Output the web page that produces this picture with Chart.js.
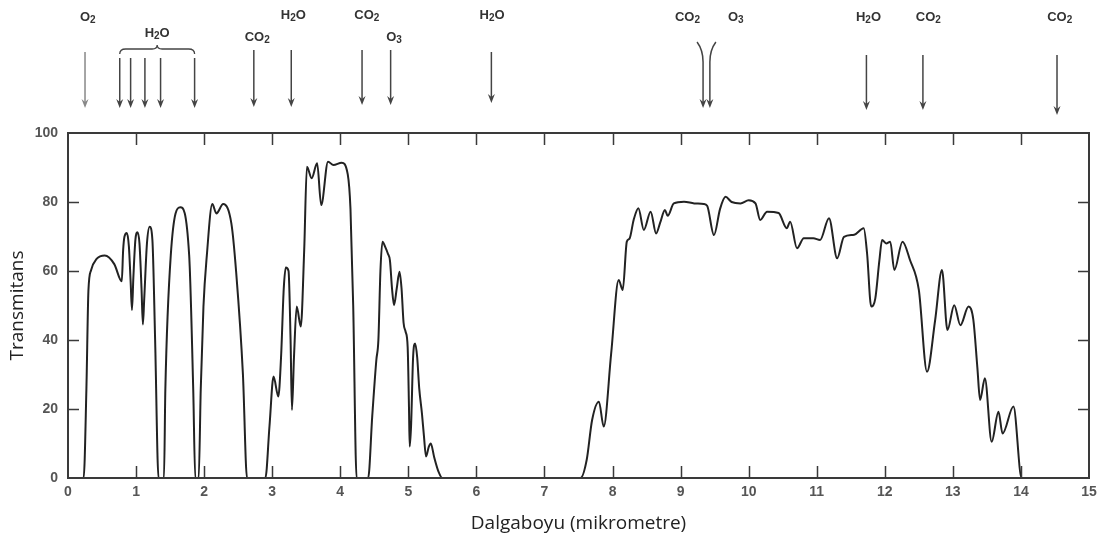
<!DOCTYPE html>
<html>
<head>
<meta charset="utf-8">
<script src="https://cdn.jsdelivr.net/npm/chart.js@4.4.1/dist/chart.umd.min.js"></script>
<style>
  html, body { margin: 0; padding: 0; background: #fff; }
</style>
</head>
<body>
<canvas id="spectrum" width="1109" height="545"></canvas>
<script>
// atmospheric transmittance
var wavelength = [
  0, 0.23, 0.27, 0.30, 0.34, 0.42, 0.54, 0.68, 0.79, 0.81, 0.83, 0.865, 0.895, 0.92, 0.94,
  0.96, 0.99, 1.02, 1.05, 1.08, 1.10, 1.12, 1.16, 1.20, 1.24, 1.28, 1.33,
  1.41, 1.43, 1.51, 1.65, 1.78, 1.84, 1.87,
  1.92, 1.95, 1.99, 2.04, 2.12, 2.18, 2.28, 2.40, 2.47, 2.57, 2.63,
  2.90, 2.96, 3.02, 3.09, 3.13, 3.17, 3.20, 3.24, 3.27, 3.29, 3.32, 3.36, 3.42, 3.47, 3.51, 3.58, 3.66, 3.72,
  3.82, 3.90, 4.02, 4.11, 4.15, 4.19, 4.24,
  4.41, 4.47, 4.53, 4.56, 4.59, 4.62, 4.66, 4.70, 4.73, 4.76, 4.79, 4.83, 4.87, 4.90, 4.93, 4.96, 4.99, 5.01,
  5.02, 5.04, 5.07, 5.10, 5.13, 5.16, 5.20, 5.23, 5.26, 5.30, 5.33, 5.38, 5.44, 5.50,
  7.53, 7.62, 7.70, 7.80, 7.87, 7.98, 8.09, 8.15, 8.21, 8.25, 8.31, 8.38, 8.46, 8.56, 8.64, 8.70, 8.77, 8.81, 8.90,
  9.05, 9.20, 9.34, 9.39, 9.49, 9.58, 9.66, 9.75, 9.88, 10.0, 10.1, 10.17, 10.27, 10.44, 10.56, 10.61, 10.71, 10.81,
  10.95, 11.05, 11.18, 11.30, 11.40, 11.55, 11.69, 11.74, 11.80, 11.86, 11.92, 11.96, 12.02, 12.08, 12.14, 12.26,
  12.37, 12.50, 12.62, 12.74, 12.84, 12.92, 13.02, 13.11, 13.23, 13.30, 13.36, 13.40, 13.47, 13.57, 13.67, 13.73,
  13.89, 14.01, 15
];
var transmittance = [
  0, 0, 25.5, 54.3, 60.3, 63.5, 64.5, 62, 57, 66, 70, 71, 67, 57, 48.7,
  58, 69, 71.2, 68, 55, 44.5, 52, 68, 72.8, 69, 40, 0,
  0, 25.5, 64.6, 78.5, 64.6, 25.5, 0,
  0, 25.5, 49.7, 64.6, 79.4, 76.7, 79.4, 73.8, 59.8, 30, 0,
  0, 15, 29.4, 23.6, 35, 55, 61, 60, 40, 19.7, 35, 49.7, 43.9, 66, 90.2, 86.9, 91.2, 79.1,
  91.7, 90.7, 91.4, 88, 78, 50, 0,
  0, 18, 34.2, 40, 60, 68.5, 67, 65, 63, 55, 50.1, 55, 59.8, 55, 45, 42.4, 38, 20,
  9.1, 15, 35, 39, 35, 26, 18.7, 12, 6.2, 9, 10, 6, 2, 0,
  0, 5.2, 16.8, 22.1, 14.9, 36.1, 57.4, 54.5, 68.5, 69.4, 74.8, 78.2, 71.9, 77.2, 70.9, 74, 77.7, 76, 79.6,
  80.1, 79.6, 79.4, 78.9, 70.4, 78, 81.5, 80, 79.6, 80.5, 79.6, 74.8, 77.2, 76.8, 72.4, 74.3, 66.6, 69.5,
  69.5, 69, 75.3, 63.7, 69.9, 70.5, 72.4, 65, 49.7, 52, 63, 69, 68, 68.5, 60.3, 68.5,
  63.2, 54.5, 30.8, 45.8, 60.3, 42.9, 50.1, 44.3, 49.7, 46, 32, 22.6, 28.9, 10.5, 19.2, 12.9,
  20.7, 0, 0
];

var xTicks = [0, 1, 2, 3, 4, 5, 6, 7, 8, 9, 10, 11, 12, 13, 14, 15];
var yTicks = [0, 20, 40, 60, 80, 100];

// absorbing gases above the plot
var absorberNames = ['O₂', 'H₂O', 'CO₂', 'H₂O', 'CO₂', 'O₃', 'H₂O', 'CO₂', 'O₃', 'H₂O', 'CO₂', 'CO₂'];
var absorberLabelAt = [0.29, 1.31, 2.78, 3.31, 4.39, 4.79, 6.23, 9.10, 9.81, 11.76, 12.64, 14.57];
var arrowAt = [0.25, 0.76, 0.92, 1.13, 1.36, 1.86, 2.73, 3.28, 4.32, 4.74, 6.22, 9.33, 9.43, 11.73, 12.56, 14.53];

var points = wavelength.map(function(w, i) {
    return {x: w, y: transmittance[i]};
});

var subDigits = {'₀': '0', '₁': '1', '₂': '2', '₃': '3'};

function drawFormula(ctx, text, cx, cy) {
    var main = 'bold 13px "Liberation Sans", Arial, sans-serif';
    var sub = 'bold 10px "Liberation Sans", Arial, sans-serif';
    var parts = [];
    var total = 0;
    for (var i = 0; i < text.length; i++) {
        var ch = text[i];
        var isSub = subDigits[ch] !== undefined;
        ctx.font = isSub ? sub : main;
        var c = isSub ? subDigits[ch] : ch;
        var w = ctx.measureText(c).width;
        parts.push({c: c, sub: isSub, w: w});
        total += w;
    }
    var x = cx - total / 2;
    ctx.textAlign = 'left';
    ctx.textBaseline = 'middle';
    parts.forEach(function(p) {
        ctx.font = p.sub ? sub : main;
        ctx.fillText(p.c, x, p.sub ? cy + 3 : cy);
        x += p.w;
    });
}

function drawArrow(ctx, x, y0, y1) {
    ctx.beginPath();
    ctx.moveTo(x, y0);
    ctx.lineTo(x, y1 - 4);
    ctx.stroke();
    ctx.beginPath();
    ctx.moveTo(x - 3.5, y1 - 9);
    ctx.lineTo(x, y1);
    ctx.lineTo(x + 3.5, y1 - 9);
    ctx.lineTo(x, y1 - 6);
    ctx.closePath();
    ctx.fill();
}

var frameAndMarks = {
    id: 'frameAndMarks',
    afterDatasetsDraw: function(chart) {
        var ctx = chart.ctx;
        var a = chart.chartArea;
        var xs = chart.scales.x;
        var ys = chart.scales.y;
        ctx.save();

        // frame with inward ticks on all four sides
        ctx.strokeStyle = '#3a3a3a';
        ctx.lineWidth = 2;
        ctx.strokeRect(a.left, a.top, a.right - a.left, a.bottom - a.top);
        ctx.lineWidth = 1.5;
        ctx.beginPath();
        xTicks.forEach(function(v) {
            if (v === xs.min || v === xs.max) return;
            var px = Math.round(xs.getPixelForValue(v)) + 0.5;
            ctx.moveTo(px, a.top);
            ctx.lineTo(px, a.top + 12);
            ctx.moveTo(px, a.bottom);
            ctx.lineTo(px, a.bottom - 12);
        });
        yTicks.forEach(function(v) {
            if (v === ys.min || v === ys.max) return;
            var py = Math.round(ys.getPixelForValue(v)) + 0.5;
            ctx.moveTo(a.left, py);
            ctx.lineTo(a.left + 11, py);
            ctx.moveTo(a.right, py);
            ctx.lineTo(a.right - 11, py);
        });
        ctx.stroke();

        // gas labels
        var labelY = [17, 33, 37, 15, 15, 37, 15, 17, 17, 17, 17, 17];
        ctx.fillStyle = '#333';
        absorberNames.forEach(function(name, i) {
            drawFormula(ctx, name, xs.getPixelForValue(absorberLabelAt[i]), labelY[i]);
        });

        // arrows
        var arrowTop = [52, 58, 58, 58, 58, 58, 50, 50, 50, 50, 52, 62, 62, 55, 55, 55];
        var arrowBottom = [108, 108, 108, 108, 108, 108, 107, 107, 105, 105, 103, 108, 108, 110, 110, 115];
        ctx.lineWidth = 1.5;
        arrowAt.forEach(function(w, i) {
            var px = xs.getPixelForValue(w);
            ctx.strokeStyle = i === 0 ? '#888' : '#444';
            ctx.fillStyle = i === 0 ? '#888' : '#444';
            drawArrow(ctx, px, arrowTop[i], arrowBottom[i]);
        });

        // curved tops of the CO2 / O3 pair near 9.4
        var l = xs.getPixelForValue(arrowAt[11]);
        var r = xs.getPixelForValue(arrowAt[12]);
        ctx.strokeStyle = '#444';
        ctx.beginPath();
        ctx.moveTo(l, 62);
        ctx.quadraticCurveTo(l, 50, l - 6, 42);
        ctx.moveTo(r, 62);
        ctx.quadraticCurveTo(r, 50, r + 6, 42);
        ctx.stroke();

        // brace over the near-infrared water bands
        var x0 = xs.getPixelForValue(arrowAt[1]);
        var x1 = xs.getPixelForValue(arrowAt[5]);
        var xm = xs.getPixelForValue(absorberLabelAt[1]);
        var yb = 49;
        ctx.lineWidth = 1.3;
        ctx.beginPath();
        ctx.moveTo(x0, yb + 5);
        ctx.quadraticCurveTo(x0, yb, x0 + 6, yb);
        ctx.lineTo(xm - 5, yb);
        ctx.quadraticCurveTo(xm, yb, xm, yb - 4);
        ctx.quadraticCurveTo(xm, yb, xm + 5, yb);
        ctx.lineTo(x1 - 6, yb);
        ctx.quadraticCurveTo(x1, yb, x1, yb + 5);
        ctx.stroke();

        ctx.restore();
    }
};

var tickFont = {family: '"Liberation Sans Narrow", "Liberation Sans", sans-serif', size: 14, weight: 'bold'};
var titleFont = {family: '"Open Sans", sans-serif', size: 19};

new Chart(document.getElementById('spectrum').getContext('2d'), {
    type: 'line',
    data: {
        datasets: [{
            data: points,
            borderColor: '#222',
            borderWidth: 2,
            pointRadius: 0,
            fill: false,
            cubicInterpolationMode: 'monotone'
        }]
    },
    options: {
        responsive: false,
        animation: false,
        devicePixelRatio: 1,
        layout: {padding: {top: 133, right: 20, left: 0, bottom: 0}},
        plugins: {legend: {display: false}, tooltip: {enabled: false}},
        scales: {
            x: {
                type: 'linear',
                min: 0,
                max: 15,
                grid: {display: false, drawTicks: false},
                border: {display: false},
                afterBuildTicks: function(s) { s.ticks = xTicks.map(function(v) { return {value: v}; }); },
                afterFit: function(s) { s.height = 67; },
                ticks: {autoSkip: false, maxRotation: 0, padding: 6, color: '#555', font: tickFont},
                title: {display: true, text: 'Dalgaboyu (mikrometre)', color: '#222', font: titleFont, padding: {top: 0, bottom: 10}}
            },
            y: {
                min: 0,
                max: 100,
                grid: {display: false, drawTicks: false},
                border: {display: false},
                afterBuildTicks: function(s) { s.ticks = yTicks.map(function(v) { return {value: v}; }); },
                afterFit: function(s) { s.width = 68; },
                ticks: {padding: 10, color: '#555', font: tickFont},
                title: {display: true, text: 'Transmitans', color: '#222', font: titleFont, padding: {top: 6, bottom: 0}}
            }
        }
    },
    plugins: [frameAndMarks]
});
</script>
</body>
</html>
